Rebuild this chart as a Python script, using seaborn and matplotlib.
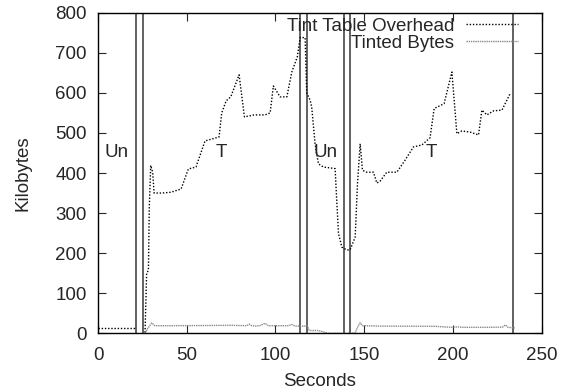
import numpy as np
import pandas as pd
import seaborn as sns
import matplotlib.pyplot as plt
from matplotlib.ticker import MultipleLocator

# region boundaries (seconds) and phase names
bounds = [0, 21.3, 25.2, 113.9, 117.8, 138.5, 142.2, 233.9]
phases = ['Un', 'T', 'Un', 'T']

# Tint Table Overhead (two pieces)
ovh_sec_a = [0, 21]
ovh_kb_a = [13.5, 13.5]
ovh_sec_b = [26.5, 27.4, 28.4, 28.9, 29.7, 30.8, 31.6, 36, 41, 46.8, 50.9, 55.2,
             60.3, 68.2, 69.7, 72.2, 74.8, 79.5, 82.5, 88, 94.1, 97, 98.8,
             102.6, 106.4, 109.2, 112.3, 113.9, 116.7, 117.6, 119.5, 120.4,
             122.3, 124.2, 127, 133.6, 134.5, 135.5, 137.4, 140.2, 142, 144.9,
             146.2, 147.7, 149, 151.4, 155.2, 157.1, 159, 162.7, 168.4, 173,
             177.7, 182.5, 187.1, 189.4, 195, 199.4, 202.2, 205, 209.7, 214.4,
             216.3, 219.1, 222.8, 227.6, 232.2]
ovh_kb_b = [2, 150, 157, 315, 419, 402, 350, 350, 352, 360, 410, 415,
            480, 490, 550, 580, 590, 645, 540, 545, 545, 550, 617,
            590, 590, 652, 690, 738, 738, 600, 582, 565,
            473, 423, 415, 411, 332, 249, 215, 208, 208, 240,
            373, 473, 407, 402, 402, 375, 380, 402, 402, 432,
            465, 470, 488, 561, 573, 652, 498, 505, 502, 495,
            557, 545, 555, 557, 598]

# Tinted Bytes
tint_sec = [26.5, 28, 30.3, 32, 40, 60, 75, 83.8, 85.2, 86.6, 89, 91, 94.1,
            96, 100, 107, 109.2, 111, 114, 118, 119, 124, 130, 143, 144.9,
            146.2, 147.7, 149, 160, 190, 195, 200, 203, 205, 220, 228,
            229.4, 231, 234.8]
tint_kb = [0, 12, 26, 19, 19, 19.5, 20, 19, 23, 19, 18, 19, 25,
           19, 19, 19, 22, 18, 18, 18, 7, 7, 0, 0, 1,
           15, 26, 19, 18, 17.5, 16, 15, 16, 15, 15, 15.5,
           21, 15, 13.5]

ovh = pd.DataFrame({
    'Seconds': ovh_sec_a + ovh_sec_b,
    'KB': ovh_kb_a + ovh_kb_b,
    'seg': [0] * len(ovh_sec_a) + [1] * len(ovh_sec_b),
})
tint = pd.DataFrame({'Seconds': tint_sec, 'KB': tint_kb})

sns.set_style('ticks')
plt.rcParams['font.family'] = ['Liberation Sans', 'DejaVu Sans']
fs = 13.5

fig = plt.figure(figsize=(5.61, 3.91), dpi=100)
ax = fig.add_axes([0.1747, 0.1475, 0.7909, 0.8200])

sns.lineplot(data=ovh, x='Seconds', y='KB', units='seg', estimator=None,
             color='black', linewidth=1.0, linestyle=(0, (1, 1.3)), ax=ax)
ovh_line = ax.get_lines()[-1]
sns.lineplot(data=tint, x='Seconds', y='KB', estimator=None,
             color='#8a8a8a', linewidth=1.0, linestyle=(0, (1, 0.6)), ax=ax)
tint_line = ax.get_lines()[-1]

for b in bounds[1:]:
    ax.axvline(b, color='#555555', linewidth=1.3, zorder=1)

mids = [(bounds[0] + bounds[1]) / 2, (bounds[2] + bounds[3]) / 2,
        (bounds[4] + bounds[5]) / 2, (bounds[6] + bounds[7]) / 2]
for m, p in zip(mids, phases):
    ax.text(m, 452, p, ha='center', va='center', fontsize=fs)

ax.set_xlim(0, 250)
ax.set_ylim(0, 800)
ax.xaxis.set_major_locator(MultipleLocator(50))
ax.yaxis.set_major_locator(MultipleLocator(100))
ax.tick_params(direction='in', length=6, width=0.8, top=True, right=True,
               labelsize=fs)
ax.tick_params(axis='x', pad=10)
ax.tick_params(axis='y', pad=8)
for s in ax.spines.values():
    s.set_visible(True)
    s.set_linewidth(1.0)
    s.set_color('black')

ax.set_xlabel('Seconds', fontsize=fs, labelpad=6)
ax.set_ylabel('Kilobytes', fontsize=fs, labelpad=17)

leg = ax.legend([ovh_line, tint_line], ['Tint Table Overhead', 'Tinted Bytes'],
                loc='upper right', bbox_to_anchor=(0.947, 0.985),
                frameon=False, markerfirst=False, handlelength=2.8,
                handletextpad=0.6, labelspacing=0.0, borderpad=0,
                borderaxespad=0, fontsize=fs)

fig.savefig('out.png', dpi=100)
